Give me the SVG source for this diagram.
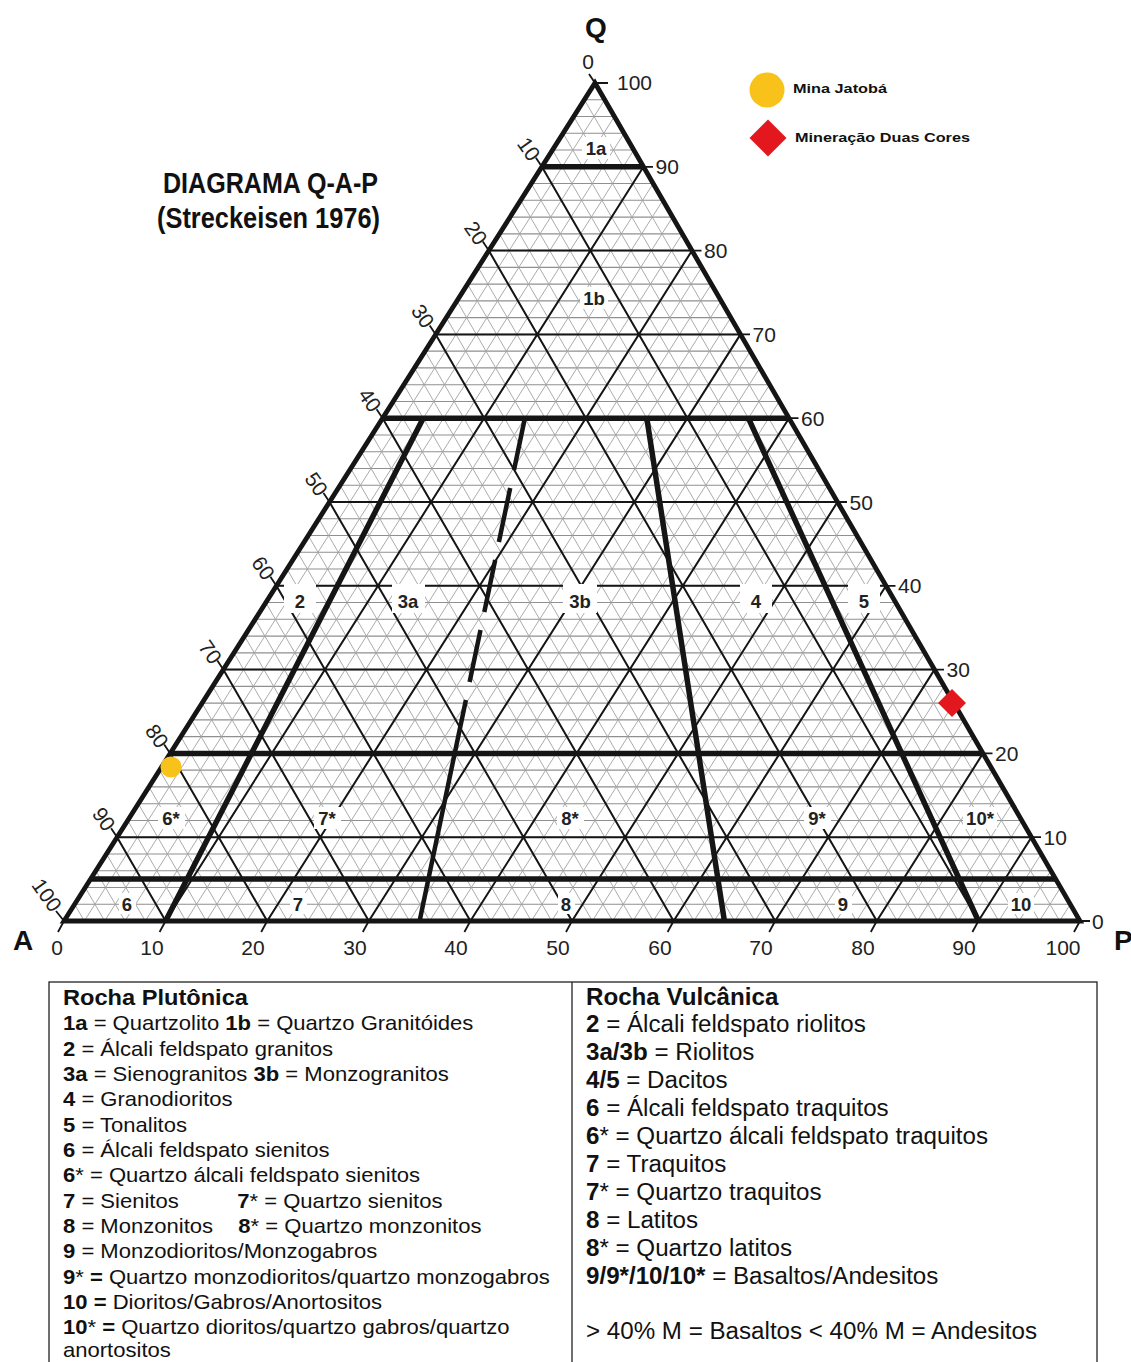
<svg xmlns="http://www.w3.org/2000/svg" width="1131" height="1362" viewBox="0 0 1131 1362">
<style>
.fine{fill:none;stroke:#a2a2a2;stroke-width:0.9}
.fineh{fill:none;stroke:#909090;stroke-width:1.1}
.med{fill:none;stroke:#151515;stroke-width:2}
.thick{fill:none;stroke:#151515;stroke-width:5.5;stroke-linecap:butt}
.tick{stroke:#151515;stroke-width:1.8;fill:none}
.num{font-family:"Liberation Sans",Arial,sans-serif;font-size:21px;fill:#222}
.lbl{font-family:"Liberation Sans",Arial,sans-serif;font-size:18.5px;font-weight:bold;fill:#222;text-anchor:middle}
.ko{fill:#fff}
.tt{font-family:"Liberation Sans",Arial,sans-serif;fill:#111}
.b{font-weight:bold}
.leg{font-family:"Liberation Sans",Arial,sans-serif;font-size:13.5px;font-weight:bold;fill:#111}
</style>
<rect width="1131" height="1362" fill="#fff"/>

<g id="grid" transform="matrix(10.16 0 5.31 -8.38 64 921)">
<path class="fineh" vector-effect="non-scaling-stroke" d="M0 2H98M0 4H96M0 6H94M0 8H92M0 10H90M0 12H88M0 14H86M0 16H84M0 18H82M0 20H80M0 22H78M0 24H76M0 26H74M0 28H72M0 30H70M0 32H68M0 34H66M0 36H64M0 38H62M0 40H60M0 42H58M0 44H56M0 46H54M0 48H52M0 50H50M0 52H48M0 54H46M0 56H44M0 58H42M0 60H40M0 62H38M0 64H36M0 66H34M0 68H32M0 70H30M0 72H28M0 74H26M0 76H24M0 78H22M0 80H20M0 82H18M0 84H16M0 86H14M0 88H12M0 90H10M0 92H8M0 94H6M0 96H4M0 98H2"/>
<path class="fine" vector-effect="non-scaling-stroke" d="M2 0V98M4 0V96M6 0V94M8 0V92M10 0V90M12 0V88M14 0V86M16 0V84M18 0V82M20 0V80M22 0V78M24 0V76M26 0V74M28 0V72M30 0V70M32 0V68M34 0V66M36 0V64M38 0V62M40 0V60M42 0V58M44 0V56M46 0V54M48 0V52M50 0V50M52 0V48M54 0V46M56 0V44M58 0V42M60 0V40M62 0V38M64 0V36M66 0V34M68 0V32M70 0V30M72 0V28M74 0V26M76 0V24M78 0V22M80 0V20M82 0V18M84 0V16M86 0V14M88 0V12M90 0V10M92 0V8M94 0V6M96 0V4M98 0V2"/>
<path class="fine" vector-effect="non-scaling-stroke" d="M0 2L2 0M0 4L4 0M0 6L6 0M0 8L8 0M0 10L10 0M0 12L12 0M0 14L14 0M0 16L16 0M0 18L18 0M0 20L20 0M0 22L22 0M0 24L24 0M0 26L26 0M0 28L28 0M0 30L30 0M0 32L32 0M0 34L34 0M0 36L36 0M0 38L38 0M0 40L40 0M0 42L42 0M0 44L44 0M0 46L46 0M0 48L48 0M0 50L50 0M0 52L52 0M0 54L54 0M0 56L56 0M0 58L58 0M0 60L60 0M0 62L62 0M0 64L64 0M0 66L66 0M0 68L68 0M0 70L70 0M0 72L72 0M0 74L74 0M0 76L76 0M0 78L78 0M0 80L80 0M0 82L82 0M0 84L84 0M0 86L86 0M0 88L88 0M0 90L90 0M0 92L92 0M0 94L94 0M0 96L96 0M0 98L98 0"/>
<path class="med" vector-effect="non-scaling-stroke" d="M0 10H90M0 20H80M0 30H70M0 40H60M0 50H50M0 60H40M0 70H30M0 80H20M0 90H10M10 0V90M20 0V80M30 0V70M40 0V60M50 0V50M60 0V40M70 0V30M80 0V20M90 0V10M0 10L10 0M0 20L20 0M0 30L30 0M0 40L40 0M0 50L50 0M0 60L60 0M0 70L70 0M0 80L80 0M0 90L90 0"/>
</g>

<g id="knockouts">
<rect class="ko" x="582" y="137" width="28" height="22"/>
<rect class="ko" x="580" y="287" width="28" height="22"/>
<rect class="ko" x="284" y="584" width="32" height="29"/>
<rect class="ko" x="392" y="584" width="33" height="29"/>
<rect class="ko" x="563" y="584" width="34" height="29"/>
<rect class="ko" x="740" y="584" width="32" height="29"/>
<rect class="ko" x="848" y="584" width="32" height="29"/>
<rect class="ko" x="158" y="807" width="27" height="22"/>
<rect class="ko" x="314" y="807" width="27" height="22"/>
<rect class="ko" x="557" y="807" width="27" height="22"/>
<rect class="ko" x="804" y="807" width="27" height="22"/>
<rect class="ko" x="963" y="807" width="34" height="22"/>
<rect class="ko" x="119" y="893" width="17" height="21"/>
<rect class="ko" x="290" y="893" width="17" height="21"/>
<rect class="ko" x="558" y="893" width="17" height="21"/>
<rect class="ko" x="835" y="893" width="17" height="21"/>
<rect class="ko" x="1008" y="893" width="26" height="21"/>
</g>

<g id="boundaries">
<path class="thick" d="M541.9 166.8H643.5M382.6 418.2H789M170.2 753.4H983M90.55 879.1H1055.75"/>
<path class="thick" d="M423.2 418.2L165.6 921M646.8 418.2L724.4 921M748.4 418.2L978.4 921"/>
<path class="thick" style="stroke-width:4.5" d="M524.9 418L514 470M510.2 488L498.9 542M495.2 560L484.3 612M480.5 630L469.6 682M465.9 700L419.6 921"/>
<polygon points="595,83 1080,921 64,921" fill="none" stroke="#151515" stroke-width="4.8" stroke-linejoin="miter"/>
</g>

<g id="ticks" class="tick">
<path d="M595 83H608M643.5 166.8H653M692 250.6H701.5M740.5 334.4H750M789 418.2H798.5M837.5 502H847M886 585.8H895.5M934.5 669.6H944M983 753.4H992.5M1031.5 837.2H1041M1080 921H1090"/>
<path d="M595 83l-6 -9M541.9 166.8l-6 -9M488.8 250.6l-6 -9M435.7 334.4l-6 -9M382.6 418.2l-6 -9M329.5 502l-6 -9M276.4 585.8l-6 -9M223.3 669.6l-6 -9M170.2 753.4l-6 -9M117.1 837.2l-6 -9M64 921l-8 -10"/>
<path d="M64 921l-6 11M165.6 921l-6 11M267.2 921l-6 11M368.8 921l-6 11M470.4 921l-6 11M572 921l-6 11M673.6 921l-6 11M775.2 921l-6 11M876.8 921l-6 11M978.4 921l-6 11M1080 921l-6 11"/>
</g>

<g id="right-scale" class="num">
<text x="617" y="90">100</text>
<text x="655.5" y="174.3">90</text>
<text x="704" y="258">80</text>
<text x="752.5" y="342">70</text>
<text x="801" y="425.7">60</text>
<text x="849.5" y="509.5">50</text>
<text x="898" y="593.3">40</text>
<text x="946.5" y="677">30</text>
<text x="995" y="761">20</text>
<text x="1043.5" y="844.7">10</text>
<text x="1092" y="928.5">0</text>
</g>

<g id="left-scale" class="num" text-anchor="middle">
<text x="0" y="7.5" transform="translate(588 61)">0</text>
<text x="0" y="7.5" transform="translate(529 149) rotate(55)">10</text>
<text x="0" y="7.5" transform="translate(476 233) rotate(55)">20</text>
<text x="0" y="7.5" transform="translate(423 316) rotate(55)">30</text>
<text x="0" y="7.5" transform="translate(370 400) rotate(55)">40</text>
<text x="0" y="7.5" transform="translate(316.5 484) rotate(55)">50</text>
<text x="0" y="7.5" transform="translate(263.4 568) rotate(55)">60</text>
<text x="0" y="7.5" transform="translate(210.3 652) rotate(55)">70</text>
<text x="0" y="7.5" transform="translate(157.2 736) rotate(55)">80</text>
<text x="0" y="7.5" transform="translate(104 819) rotate(55)">90</text>
<text x="0" y="7.5" transform="translate(47 895) rotate(55)">100</text>
</g>

<g id="bottom-scale" class="num" text-anchor="middle">
<text x="57" y="955">0</text>
<text x="152" y="955">10</text>
<text x="253" y="955">20</text>
<text x="355" y="955">30</text>
<text x="456" y="955">40</text>
<text x="558" y="955">50</text>
<text x="660" y="955">60</text>
<text x="761" y="955">70</text>
<text x="863" y="955">80</text>
<text x="964" y="955">90</text>
<text x="1063" y="955">100</text>
</g>

<g id="field-labels" class="lbl">
<text x="596" y="155">1a</text>
<text x="594" y="305">1b</text>
<text x="300" y="608">2</text>
<text x="408" y="608">3a</text>
<text x="580" y="608">3b</text>
<text x="756" y="608">4</text>
<text x="864" y="608">5</text>
<text x="171" y="825">6*</text>
<text x="327" y="825">7*</text>
<text x="570" y="825">8*</text>
<text x="817" y="825">9*</text>
<text x="980" y="825">10*</text>
<text x="127" y="911">6</text>
<text x="298" y="911">7</text>
<text x="566" y="911">8</text>
<text x="843" y="911">9</text>
<text x="1021" y="911">10</text>
</g>

<g id="vertex-labels" class="tt b" font-size="28">
<text x="596" y="37" text-anchor="middle">Q</text>
<text x="23" y="950" text-anchor="middle">A</text>
<text x="1114" y="950">P</text>
</g>

<g id="title" class="tt b" font-size="29">
<text x="163" y="193" textLength="215" lengthAdjust="spacingAndGlyphs">DIAGRAMA Q-A-P</text>
<text x="157" y="228" textLength="223" lengthAdjust="spacingAndGlyphs">(Streckeisen 1976)</text>
</g>

<g id="samples">
<circle cx="171" cy="767" r="10.5" fill="#F9C21A"/>
<polygon points="952,689 966,703 952,717 938,703" fill="#E3171E"/>
</g>

<g id="legend">
<circle cx="767" cy="90" r="17.5" fill="#F9C21A"/>
<text class="leg" x="793" y="93" textLength="94" lengthAdjust="spacingAndGlyphs">Mina Jatobá</text>
<polygon points="768,119.5 786.5,138 768,156.5 749.5,138" fill="#E3171E"/>
<text class="leg" x="795" y="142" textLength="175" lengthAdjust="spacingAndGlyphs">Mineração Duas Cores</text>
</g>

<g id="table">
<rect x="49" y="982" width="1048" height="395" fill="none" stroke="#222" stroke-width="1.3"/>
<line x1="572" y1="982" x2="572" y2="1362" stroke="#222" stroke-width="1.3"/>
<g class="tt" font-size="21" transform="translate(63 0) scale(1.05 1)">
<text x="0" y="1005" class="b" font-size="22.5">Rocha Plutônica</text>
<text x="0" y="1030.5"><tspan class="b">1a</tspan> = Quartzolito <tspan class="b">1b</tspan> = Quartzo Granitóides</text>
<text x="0" y="1056"><tspan class="b">2</tspan> = Álcali feldspato granitos</text>
<text x="0" y="1081"><tspan class="b">3a</tspan> = Sienogranitos <tspan class="b">3b</tspan> = Monzogranitos</text>
<text x="0" y="1106.5"><tspan class="b">4</tspan> = Granodioritos</text>
<text x="0" y="1132"><tspan class="b">5</tspan> = Tonalitos</text>
<text x="0" y="1157"><tspan class="b">6</tspan> = Álcali feldspato sienitos</text>
<text x="0" y="1182.5"><tspan class="b">6</tspan>* = Quartzo álcali feldspato sienitos</text>
<text x="0" y="1208"><tspan class="b">7</tspan> = Sienitos</text>
<text x="166" y="1208"><tspan class="b">7</tspan>* = Quartzo sienitos</text>
<text x="0" y="1233"><tspan class="b">8</tspan> = Monzonitos</text>
<text x="167" y="1233"><tspan class="b">8</tspan>* = Quartzo monzonitos</text>
<text x="0" y="1258.5"><tspan class="b">9</tspan> = Monzodioritos/Monzogabros</text>
<text x="0" y="1284"><tspan class="b">9</tspan>* <tspan class="b">=</tspan> Quartzo monzodioritos/quartzo monzogabros</text>
<text x="0" y="1309"><tspan class="b">10 =</tspan> Dioritos/Gabros/Anortositos</text>
<text x="0" y="1334"><tspan class="b">10</tspan>* <tspan class="b">=</tspan> Quartzo dioritos/quartzo gabros/quartzo</text>
<text x="0" y="1357">anortositos</text>
</g>
<g class="tt" font-size="23" transform="translate(586 0) scale(1.05 1)">
<text x="0" y="1005" class="b">Rocha Vulcânica</text>
<text x="0" y="1032.5"><tspan class="b">2</tspan> = Álcali feldspato riolitos</text>
<text x="0" y="1060.5"><tspan class="b">3a/3b</tspan> = Riolitos</text>
<text x="0" y="1088.5"><tspan class="b">4/5</tspan> = Dacitos</text>
<text x="0" y="1116.5"><tspan class="b">6</tspan> = Álcali feldspato traquitos</text>
<text x="0" y="1144"><tspan class="b">6</tspan>* = Quartzo álcali feldspato traquitos</text>
<text x="0" y="1172"><tspan class="b">7</tspan> = Traquitos</text>
<text x="0" y="1200"><tspan class="b">7</tspan>* = Quartzo traquitos</text>
<text x="0" y="1228"><tspan class="b">8</tspan> = Latitos</text>
<text x="0" y="1256"><tspan class="b">8</tspan>* = Quartzo latitos</text>
<text x="0" y="1284"><tspan class="b">9/9*/10/10*</tspan>  = Basaltos/Andesitos</text>
<text x="0" y="1339">&gt; 40% M = Basaltos &lt; 40% M = Andesitos</text>
</g>
</g>
</svg>
